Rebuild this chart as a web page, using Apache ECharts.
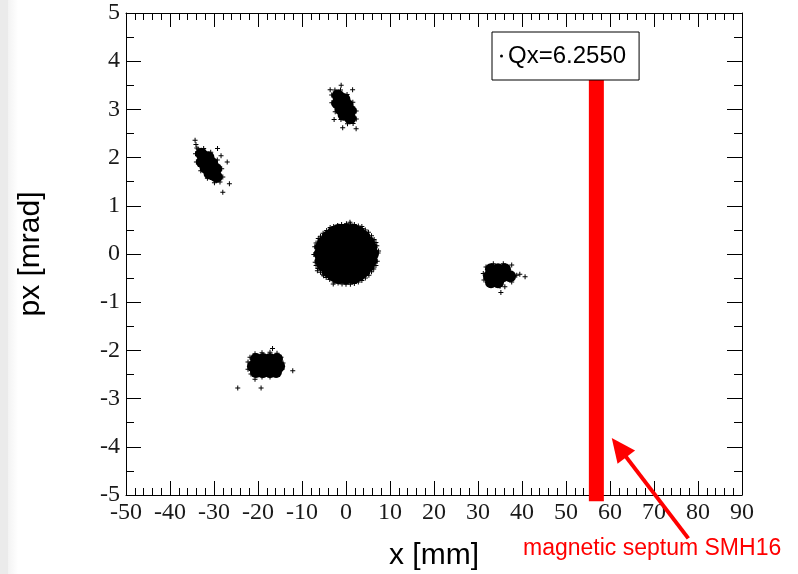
<!DOCTYPE html>
<html>
<head>
<meta charset="utf-8">
<script src="https://cdn.jsdelivr.net/npm/echarts@6/dist/echarts.min.js"></script>
<style>
html,body{margin:0;padding:0;background:#fff;}
#main{width:798px;height:574px;}
</style>
</head>
<body>
<div id="main"></div>
<script>
// ---- axis ranges ----
const xRange = [-50, 90];
const yRange = [-5, 5];
const legendLabel = 'Qx=6.2550';
const septumLabel = 'magnetic septum SMH16';

// ---- central beam core (x [mm], px [mrad]) ----
const blobCore = [
  [-5.2,0],[-3.4,0],[-1.6,0],[0.2,0],[2.0,0],[3.8,0],[5.4,0],
  [-4.7,0.18],[-2.9,0.18],[-1.1,0.18],[0.7,0.18],[2.5,0.18],[4.4,0.18],
  [-4.7,-0.18],[-2.9,-0.18],[-1.1,-0.18],[0.7,-0.18],[2.5,-0.18],[4.4,-0.18],
  [-3.2,0.34],[-1.6,0.34],[0,0.34],[1.6,0.34],[3.2,0.34],
  [-3.2,-0.34],[-1.6,-0.34],[0,-0.34],[1.6,-0.34],[3.2,-0.34],
  [-1.6,0.44],[0,0.44],[1.6,0.44],[-1.6,-0.44],[0,-0.44],[1.6,-0.44]
];
const blobRing = [
  [6.2,0],[6.0,0.14],[5.4,0.26],[4.4,0.37],[3.1,0.46],[1.6,0.51],[0,0.53],[-1.6,0.51],
  [-3.1,0.46],[-4.4,0.37],[-5.4,0.26],[-6.0,0.14],[-6.2,0],[-6.0,-0.14],[-5.4,-0.26],[-4.4,-0.37],
  [-3.1,-0.46],[-1.6,-0.51],[0,-0.53],[1.6,-0.51],[3.1,-0.46],[4.4,-0.37],[5.4,-0.26],[6.0,-0.14]
];
const blobEdge = [
  [7.3,0.02],[7.0,0.17],[6.4,0.30],[5.1,0.45],[3.7,0.53],[1.9,0.61],[0.1,0.63],[-1.9,0.59],
  [-3.6,0.55],[-5.2,0.43],[-6.3,0.32],[-7.1,0.15],[-7.3,-0.01],[-7.0,-0.17],[-6.4,-0.30],[-5.1,-0.45],
  [-3.7,-0.53],[-1.8,-0.60],[0.0,-0.63],[1.9,-0.61],[3.6,-0.55],[5.2,-0.44],[6.3,-0.31],[7.1,-0.15],
  [6.8,0.24],[5.8,0.38],[4.4,0.50],[2.8,0.58],[1.0,0.62],[-1.0,0.61],[-2.8,0.57],[-4.4,0.49],
  [-5.8,0.37],[-6.8,0.23],[-6.8,-0.24],[-5.8,-0.38],[-4.5,-0.49],[-2.7,-0.58],[-0.9,-0.62],[1.0,-0.63],
  [2.8,-0.58],[4.4,-0.50],[5.8,-0.37],[6.8,-0.24]
];
const blobStray = [[-6.5,-0.35],[-2.9,-0.62],[0.9,0.66],[3.6,0.57],[-5.2,-0.42],[7.4,0.06]];

// ---- upper-left island ----
const islandACore = [
  [-32.89,2.08],[-32.01,1.96],[-31.14,1.84],[-30.26,1.72],[-29.39,1.60],
  [-31.26,2.005],[-32.76,1.91],[-29.51,1.765],[-31.01,1.67],
  [-30.41,1.885],[-31.91,1.79],[-32.3,2.03],[-30.0,1.64]
];
const islandAEdge = [
  [-28.64,1.495],[-28.0,1.60],[-28.25,1.77],[-29.25,1.95],[-30.75,2.11],[-32.35,2.19],
  [-33.6,2.18],[-34.2,2.08],[-34.0,1.91],[-33.0,1.725],[-31.5,1.57],[-29.9,1.48],
  [-34.3,2.36],[-34.1,2.27],[-33.9,2.2]
];
const islandAStray = [[-29.2,2.19],[-28.4,2.04],[-27.0,1.91],[-26.5,1.46],[-28.0,1.28]];

// ---- upper island ----
const islandBCore = [
  [-1.87,3.29],[-1.16,3.17],[-0.45,3.05],[0.25,2.93],[0.96,2.815],
  [-0.36,3.21],[-1.95,3.13],[1.05,2.97],[-0.55,2.89],
  [0.34,3.09],[-1.25,3.01],[-1.4,3.25],[0.6,2.87]
];
const islandBEdge = [
  [1.61,2.71],[2.34,2.80],[2.31,2.965],[1.55,3.15],[0.24,3.31],[-1.25,3.40],
  [-2.52,3.40],[-3.25,3.30],[-3.22,3.14],[-2.45,2.95],[-1.15,2.79],[0.34,2.70]
];
const islandBStray = [[-1.1,3.5],[1.5,3.41],[-2.7,2.79],[-0.75,2.62],[2.3,2.6],[-3.6,3.41]];

// ---- lower-left island ----
const islandCCore = [
  [-20.45,-2.18],[-18.86,-2.18],[-17.27,-2.18],[-15.68,-2.18],
  [-21.14,-2.33],[-19.55,-2.33],[-17.95,-2.33],[-16.36,-2.33],[-15.2,-2.33],
  [-20.45,-2.45],[-18.86,-2.45],[-17.27,-2.45],[-15.9,-2.45]
];
const islandCEdge = [
  [-22.27,-2.24],[-21.82,-2.14],[-20.68,-2.07],[-19.09,-2.05],[-17.27,-2.04],[-15.68,-2.06],
  [-14.77,-2.14],[-14.32,-2.26],[-14.55,-2.39],[-15.68,-2.51],[-17.27,-2.55],[-19.09,-2.55],
  [-20.68,-2.6],[-21.59,-2.49],[-22.27,-2.39]
];
const islandCStray = [[-24.6,-2.78],[-19.3,-2.78],[-16.7,-1.96],[-12.1,-2.42]];

// ---- right island ----
const islandDCore = [
  [32.95,-0.316],[34.55,-0.316],[36.14,-0.316],
  [32.5,-0.461],[34.1,-0.461],[35.7,-0.461],[37.3,-0.461],
  [32.95,-0.585],[34.55,-0.585]
];
const islandDEdge = [
  [31.82,-0.27],[33.48,-0.20],[35.75,-0.20],[37.66,-0.23],[38.8,-0.44],
  [37.66,-0.58],[35.0,-0.67],[32.73,-0.65],[31.36,-0.54],[31.2,-0.405]
];
const islandDStray = [[39.5,-0.42],[40.7,-0.47],[36.1,-0.68],[35.2,-0.8]];

// ---- septum and arrow (data coords) ----
const septum = [[56.9,-5.13],[56.9,4.0]];
const arrowTip = [60.4,-3.82];
const arrowTail = [77.8,-5.9];

const cross = 'path://M0,2H5V3H0Z M2,0H3V5H2Z';
const serif = 'Liberation Serif';
const sans = 'Liberation Sans';

function xAxisDef(pos, labels) {
  return {
    type: 'value', min: xRange[0], max: xRange[1], interval: 10, position: pos,
    axisLine: { show: true, onZero: false, lineStyle: { color: '#000', width: 1 } },
    axisTick: { show: true, inside: true, length: 14, lineStyle: { color: '#000', width: 1 } },
    minorTick: { show: true, splitNumber: 5, length: 7, lineStyle: { color: '#000', width: 1 } },
    splitLine: { show: false }, minorSplitLine: { show: false },
    axisLabel: { show: labels, margin: 6, fontFamily: serif, fontSize: 24, color: '#1a1a1a',
                 showMinLabel: true, showMaxLabel: true },
    name: labels ? 'x [mm]' : '', nameLocation: 'middle', nameGap: 46,
    nameTextStyle: { fontFamily: sans, fontSize: 30, color: '#000' }
  };
}
function yAxisDef(pos, labels) {
  return {
    type: 'value', min: yRange[0], max: yRange[1], interval: 1, position: pos,
    axisLine: { show: true, onZero: false, lineStyle: { color: '#000', width: 1 } },
    axisTick: { show: true, inside: true, length: 15, lineStyle: { color: '#000', width: 1 } },
    minorTick: { show: true, splitNumber: 2, length: 8, lineStyle: { color: '#000', width: 1 } },
    splitLine: { show: false }, minorSplitLine: { show: false },
    axisLabel: { show: labels, margin: 6, fontFamily: serif, fontSize: 24, color: '#1a1a1a',
                 showMinLabel: true, showMaxLabel: true },
    name: labels ? 'px [mrad]' : '', nameLocation: 'middle', nameGap: 80, nameRotate: 90,
    nameTextStyle: { fontFamily: sans, fontSize: 30, color: '#000' }
  };
}

function scatter(data, symbol, size) {
  return {
    type: 'scatter', name: legendLabel, data: data, symbol: symbol, symbolSize: size,
    itemStyle: { color: '#000', opacity: 1 }, silent: true, z: 3, xAxisIndex: 0, yAxisIndex: 0
  };
}

const chart = echarts.init(document.getElementById('main'), null, { renderer: 'canvas' });
chart.setOption({
  animation: false,
  backgroundColor: '#fff',
  grid: { left: 126, top: 13, width: 616, height: 482, containLabel: false, outerBoundsMode: 'none' },
  xAxis: [xAxisDef('bottom', true), xAxisDef('top', false)],
  yAxis: [yAxisDef('left', true), yAxisDef('right', false)],
  legend: {
    data: [{ name: legendLabel, icon: 'circle' }],
    left: 492, top: 32, orient: 'horizontal',
    padding: [12, 13, 12, 8], itemWidth: 3, itemHeight: 3,
    borderColor: '#000', borderWidth: 1, borderRadius: 0, backgroundColor: '#fff',
    textStyle: { fontFamily: sans, fontSize: 24, color: '#000' },
    selectedMode: false, z: 10
  },
  series: [
    {
      type: 'line', name: 'septum', data: septum, showSymbol: false, symbol: 'none',
      lineStyle: { color: '#ff0000', width: 15, cap: 'butt' }, clip: false, silent: true, z: 1
    },
    scatter(blobCore, 'circle', 18),
    scatter(blobRing, 'circle', 10),
    scatter(islandACore.concat(islandBCore, islandCCore, islandDCore), 'circle', 12),
    scatter(blobEdge.concat(blobStray, islandAEdge, islandAStray, islandBEdge, islandBStray,
      islandCEdge, islandCStray, islandDEdge, islandDStray), cross, 5)
  ]
});

// arrow pointing at the septum, positioned through the axes
const tip = chart.convertToPixel({ gridIndex: 0 }, arrowTip);
const tail = chart.convertToPixel({ gridIndex: 0 }, arrowTail);
const dx = tip[0] - tail[0], dy = tip[1] - tail[1];
const len = Math.sqrt(dx * dx + dy * dy);
const ux = dx / len, uy = dy / len;
const headLen = 24, headHalf = 11;
const bx = tip[0] - ux * headLen, by = tip[1] - uy * headLen;
const px = -uy, py = ux;
chart.setOption({
  graphic: [
    { type: 'rect', left: 0, top: 0, shape: { width: 8, height: 574 }, style: { fill: '#ebebeb' }, z: -10 },
    { type: 'rect', left: 8, top: 0, shape: { width: 10, height: 574 },
      style: { fill: new echarts.graphic.LinearGradient(0, 0, 1, 0, [
        { offset: 0, color: '#f3f3f3' }, { offset: 1, color: '#ffffff' }]) }, z: -10 },
    { type: 'line', shape: { x1: tail[0], y1: tail[1], x2: bx + ux * 2, y2: by + uy * 2 },
      style: { stroke: '#ff0000', lineWidth: 4 }, z: 20 },
    { type: 'polygon', shape: { points: [
        [tip[0], tip[1]], [bx + px * headHalf, by + py * headHalf], [bx - px * headHalf, by - py * headHalf]] },
      style: { fill: '#ff0000' }, z: 20 },
    { type: 'text', left: 523, top: 537,
      style: { text: septumLabel, fill: '#ff0000', font: '23px "Liberation Sans"' }, z: 20 }
  ]
});
</script>
</body>
</html>
